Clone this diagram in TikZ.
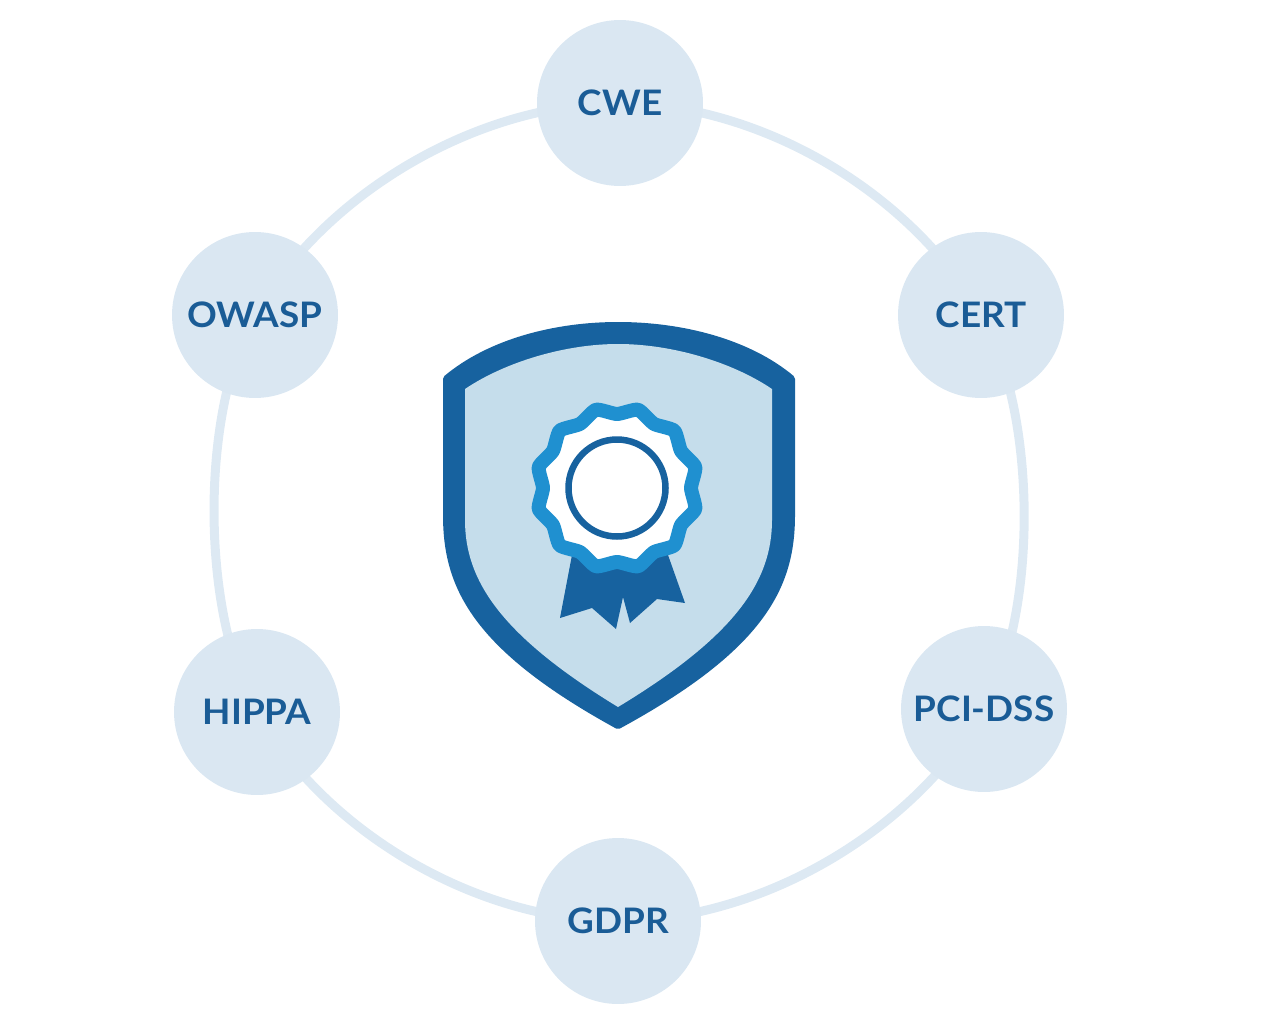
\documentclass[tikz,border=0pt]{standalone}
\usepackage{fontspec}
\setmainfont{Lato}[FakeStretch=1.05]
\usetikzlibrary{backgrounds}
\definecolor{ringblue}{HTML}{DDE9F3}
\definecolor{bubbleblue}{HTML}{DAE7F2}
\definecolor{darkblue}{HTML}{17629F}
\definecolor{textblue}{HTML}{1A5C96}
\definecolor{paleblue}{HTML}{C5DDEB}
\definecolor{rosetteblue}{HTML}{1F90D0}
\tikzset{
  standard/.style={circle, fill=bubbleblue, text=textblue, minimum size=3.32cm, inner sep=0pt,
    font=\fontsize{20}{20}\selectfont\bfseries},
  ringline/.style={draw=ringblue, line width=1.8mm, bend left=30, looseness=.86},
  sideline/.style={ringline, looseness=.72}
}
\begin{document}
\begin{tikzpicture}[x=.02cm,y=-.02cm]
  \useasboundingbox (0,0) rectangle (1280,1024);

  \node[standard] (cwe) at (620,103) {CWE};
  \node[standard] (cert) at (981,315) {CERT};
  \node[standard] (pci) at (984,709) {PCI-DSS};
  \node[standard] (gdpr) at (618,921) {GDPR};
  \node[standard] (hippa) at (257,712) {HIPPA};
  \node[standard] (owasp) at (255,315) {OWASP};

  \begin{scope}[on background layer]
    \draw[ringline] (cwe.center) to (cert.center);
    \draw[sideline] (cert.center) to (pci.center);
    \draw[ringline] (pci.center) to (gdpr.center);
    \draw[ringline] (gdpr.center) to (hippa.center);
    \draw[sideline] (hippa.center) to (owasp.center);
    \draw[ringline] (owasp.center) to (cwe.center);
  \end{scope}

  % shield
  \draw[darkblue, fill=darkblue, line width=1.6mm, line join=round] (447,515) -- (447,379)
    .. controls (490,343) and (555,326) .. (618,326)
    .. controls (682,326) and (748,343) .. (791,379) -- (791,515)
    .. controls (791,585) and (763,646) .. (618,725)
    .. controls (474,646) and (447,585) .. (447,515) -- cycle;
  \fill[paleblue] (465,520) -- (465,389)
    .. controls (505,362) and (565,344) .. (618,344)
    .. controls (672,344) and (732,362) .. (772,389) -- (772,520)
    .. controls (772,580) and (737,635) .. (618,707)
    .. controls (500,635) and (465,580) .. (465,520) -- cycle;

  % ribbon
  \fill[darkblue] (572,555) -- (560,618) -- (592,608) -- (616,629) -- (623,597)
    -- (630,623) -- (657,599) -- (685,603) -- (668,555) -- cycle;

  % rosette
  \begin{scope}[shift={(617,488)}]
    \draw[rosetteblue, fill=white, line width=2.8mm, line join=round]
      plot[smooth cycle, tension=.35, samples at={0,15,...,345}] (\x:{77.5+3.5*cos(12*(\x-15))});
    \draw[darkblue, fill=white, line width=1.3mm] (0,0) circle (48.5);
  \end{scope}
\end{tikzpicture}
\end{document}
